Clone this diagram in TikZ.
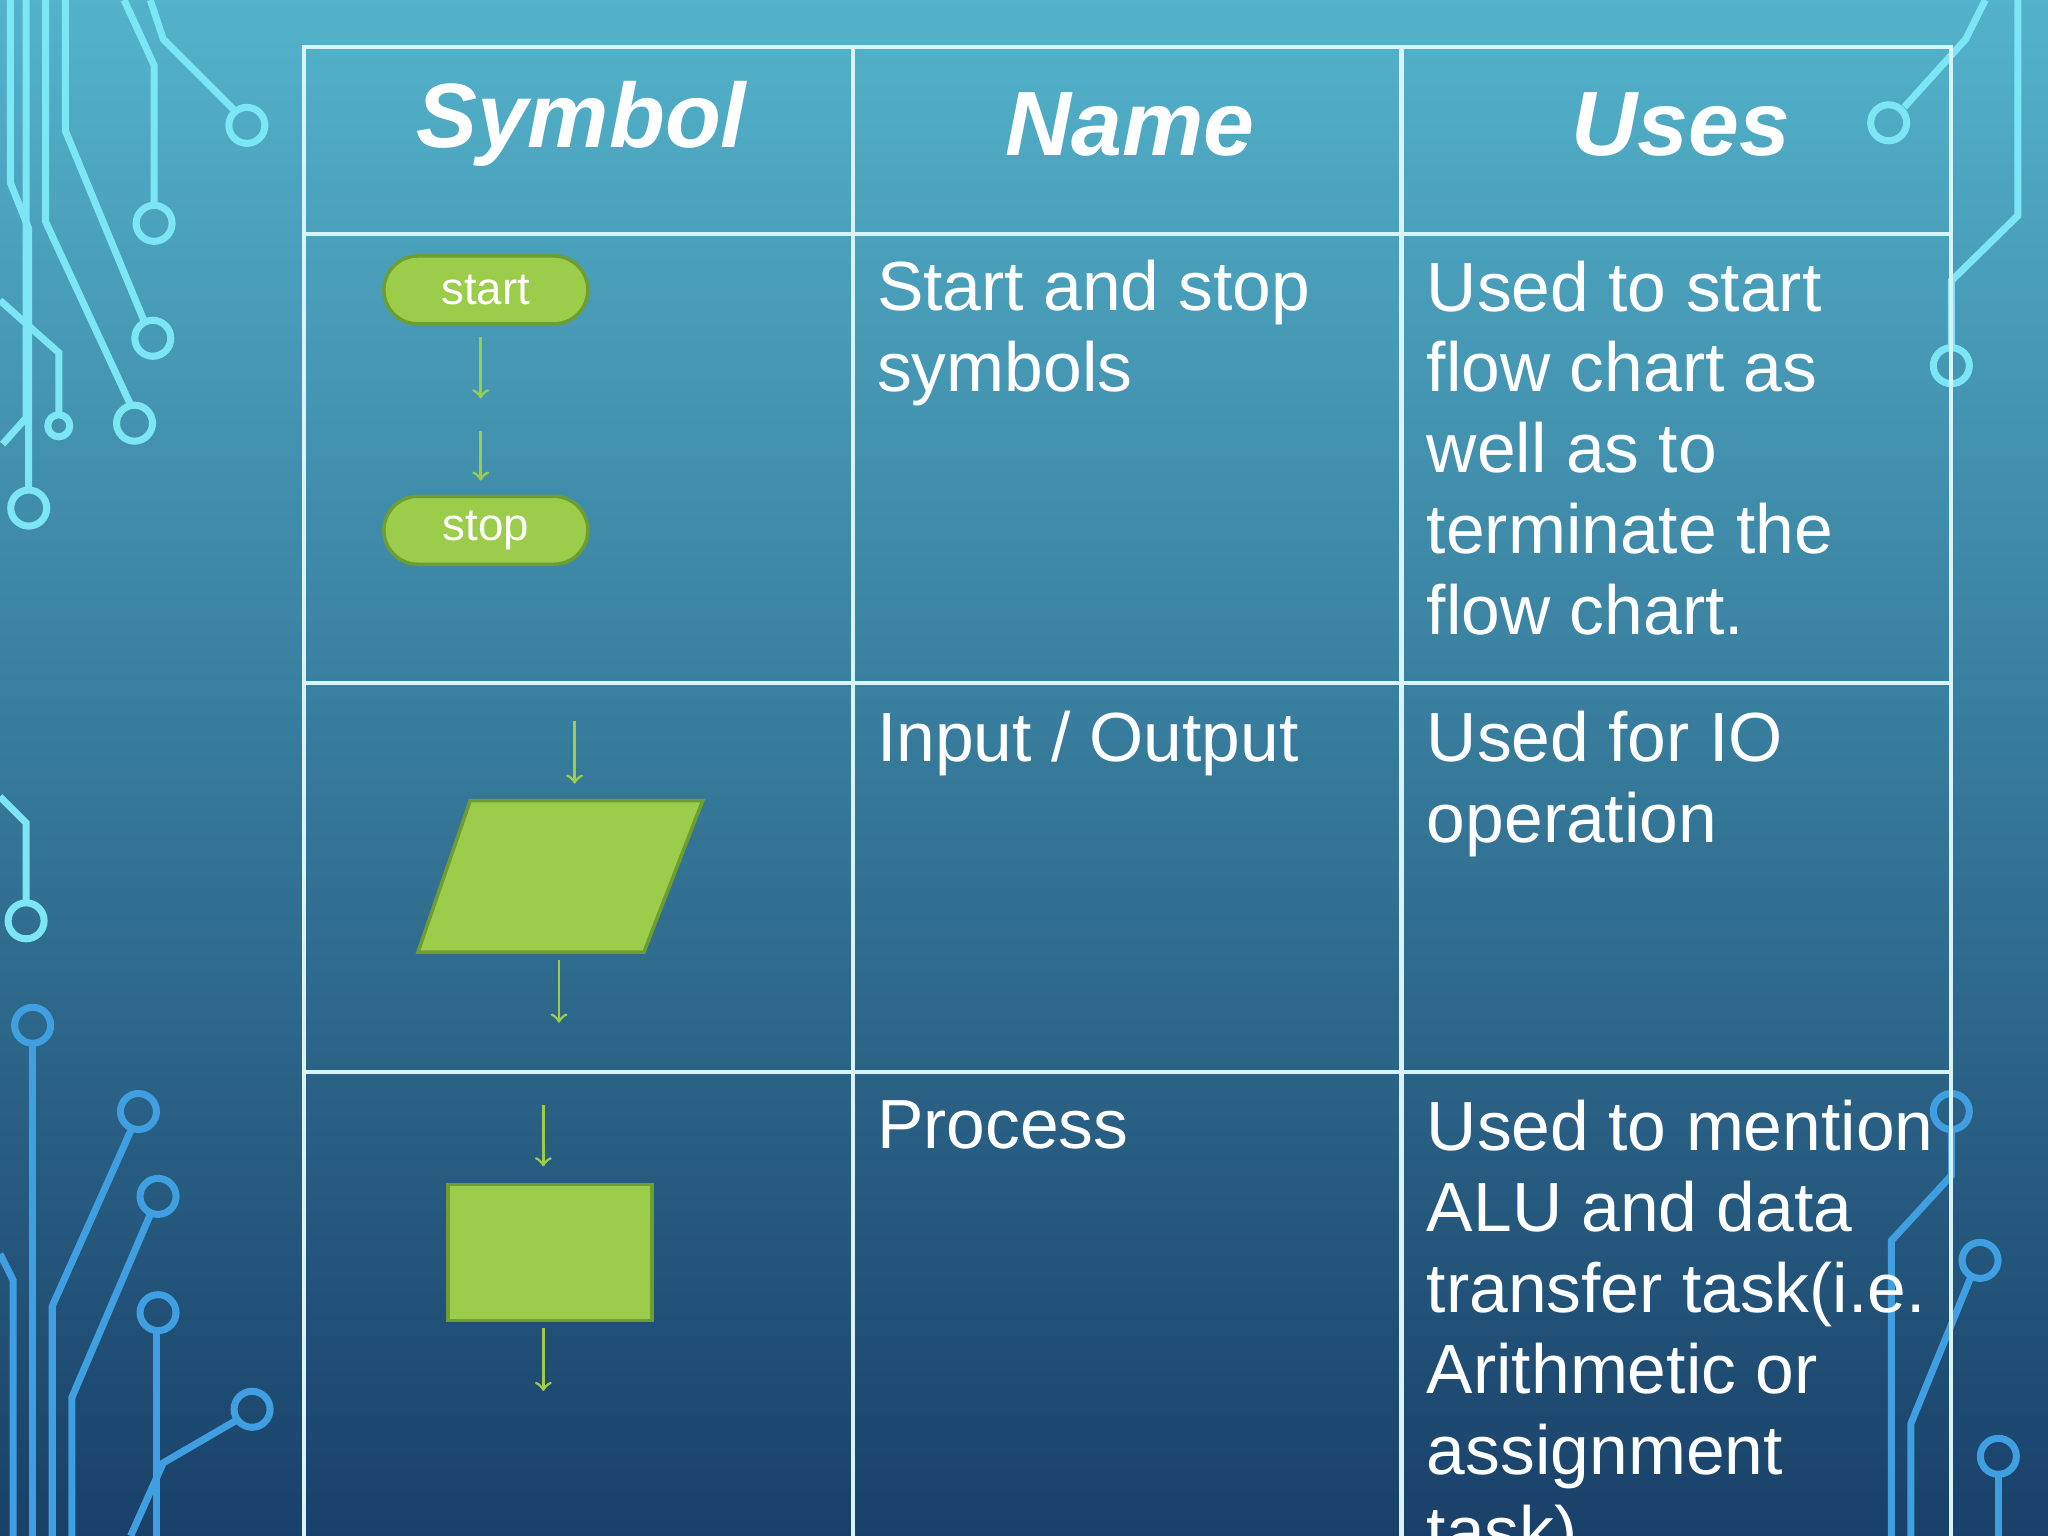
\documentclass[tikz,border=0pt]{standalone}
\usepackage{fontspec}
\setmainfont{Liberation Sans}
\usetikzlibrary{positioning}

\definecolor{bgtop}{HTML}{62D0E4}
\definecolor{bgmid}{HTML}{2FA0CC}
\definecolor{bgbot}{HTML}{0A2350}
\definecolor{leaf}{HTML}{9BCD4B}
\definecolor{leafdark}{HTML}{6E9E32}
\definecolor{wire}{HTML}{7DE6F4}
\definecolor{wireblue}{HTML}{3F9FE0}

\tikzset{
  grid line/.style={draw=white!85!cyan, line width=1.2pt},
  head/.style={font=\fontsize{26}{28}\selectfont\bfseries\itshape, text=white},
  body/.style={font=\fontsize{19.8}{23}\selectfont, text=white, anchor=north west, align=left},
  terminal/.style={draw=leafdark, fill=leaf, line width=1pt, rounded corners=0.34cm,
    minimum width=2.04cm, minimum height=0.68cm, text=white, font=\fontsize{13}{14}\selectfont},
  flow/.style={->, draw=leaf, line width=0.8pt},
  wires/.style={draw=wire, line width=2pt},
  pad/.style={draw=wire, line width=2pt, circle, inner sep=0pt, minimum size=0.36cm},
}

\begin{document}
\begin{tikzpicture}[x=0.01306cm, y=-0.01306cm]
\useasboundingbox (0,0) rectangle (1568,1176);
\clip (0,0) rectangle (1568,1176);
\shade[shading angle=35, top color=bgtop, middle color=bgmid, bottom color=bgbot]
  (-300,-300) rectangle (1868,1476);

% circuit traces, top left
\draw[wires] (20,0) -- (20,320) -- (2,340);
\draw[wires] (35,0) -- (35,170) -- (100,310);
\draw[wires] (50,0) -- (50,100) -- (110,245);
\draw[wires] (95,0) -- (118,50) -- (118,155);
\draw[wires] (115,0) -- (125,30) -- (180,85);
\draw[wires] (0,230) -- (45,270) -- (45,318);
\draw[wires] (8,0) -- (8,140) -- (22,175) -- (22,375);
\node[pad] (p1) at (189,96) {};
\node[pad] (p2) at (118,171) {};
\node[pad] (p3) at (117,259) {};
\node[pad] (p4) at (103,324) {};
\node[pad, minimum size=0.22cm] (p5) at (45,326) {};
\node[pad] (p6) at (22,389) {};
% top right
\draw[wires] (1520,0) -- (1505,30) -- (1458,82);
\draw[wires] (1545,0) -- (1545,165) -- (1494,215) -- (1494,265);
\node[pad] (p7) at (1446,94) {};
\node[pad] (p8) at (1494,280) {};
% bottom left
\draw[wires] (0,610) -- (20,630) -- (20,690);
\node[pad] (p9) at (20,705) {};
\draw[wireblue, line width=2pt] (25,800) -- (25,1176);
\draw[wireblue, line width=2pt] (10,1176) -- (10,980) -- (0,960);
\draw[wireblue, line width=2pt] (40,1176) -- (40,1000) -- (100,866);
\draw[wireblue, line width=2pt] (55,1176) -- (55,1070) -- (115,930);
\draw[wireblue, line width=2pt] (120,1176) -- (120,1020);
\draw[wireblue, line width=2pt] (100,1176) -- (125,1120) -- (180,1088);
\foreach \px/\py in {25/785, 106/851, 121/916, 121/1005, 193/1079}
  \draw[wireblue, line width=2pt] (\px,\py) circle (0.18cm);
% bottom right
\draw[wireblue, line width=2pt] (1463,1176) -- (1463,1090) -- (1510,975);
\draw[wireblue, line width=2pt] (1530,1176) -- (1530,1130);
\draw[wireblue, line width=2pt] (1448,1176) -- (1448,950) -- (1494,900) -- (1494,866);
\foreach \px/\py in {1494/851, 1516/965, 1530/1115}
  \draw[wireblue, line width=2pt] (\px,\py) circle (0.18cm);

% table grid
\draw[grid line] (233,1200) -- (233,36) -- (1494,36) -- (1494,1200);
\draw[grid line] (653,36) -- (653,1200);
\draw[grid line] (1073,36) -- (1073,1200);
\foreach \ry in {179,523,821}
  \draw[grid line] (233,\ry) -- (1494,\ry);

% header
\node[head] (hsym) at (445,95) {Symbol};
\node[head] (hname) at (865,95) {Name};
\node[head] (huses) at (1287,95) {Uses};

% row 1: terminals
\node[terminal] (start) at (372,222) {start};
\node[terminal] (stop) at (372,406) {stop};
\coordinate (a0) at (368,258);
\coordinate (a1) at (368,305);
\coordinate (a2) at (368,330);
\coordinate (a3) at (368,368);
\draw[flow] (a0) -- (a1);
\draw[flow] (a2) -- (a3);
\node[body] (n1) at (662,190) {Start and stop\\symbols};
\node[body] (u1) at (1083,190) {Used to start\\flow chart as\\well as to\\terminate the\\flow chart.};

% row 2: input / output
\draw[draw=leafdark, fill=leaf, line width=1pt] (360,613) -- (538,613)
  -- (493,729) -- (320,729) -- cycle;
\coordinate (b0) at (440,552);
\coordinate (b1) at (440,600);
\coordinate (b2) at (428,735);
\coordinate (b3) at (428,783);
\draw[flow] (b0) -- (b1);
\draw[flow] (b2) -- (b3);
\node[body] (n2) at (662,535) {Input / Output};
\node[body] (u2) at (1083,535) {Used for IO\\operation};

% row 3: process
\node[draw=leafdark, fill=leaf, line width=1pt, minimum width=2.04cm, minimum height=1.36cm] (proc) at (421,959) {};
\coordinate (c0) at (416,846);
\coordinate (c1) at (416,893);
\coordinate (c2) at (416,1017);
\coordinate (c3) at (416,1065);
\draw[flow] (c0) -- (c1);
\draw[flow] (c2) -- (c3);
\node[body] (n3) at (662,833) {Process};
\node[body] (u3) at (1083,833) {Used to mention\\ALU and data\\transfer task(i.e.\\Arithmetic or\\assignment\\task).};
\end{tikzpicture}
\end{document}
